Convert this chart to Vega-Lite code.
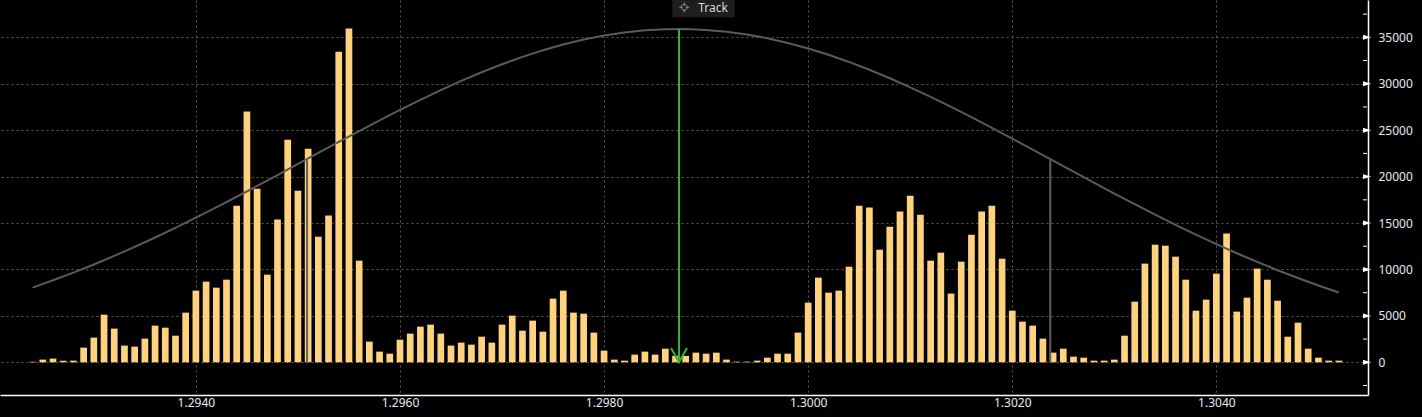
{
  "$schema": "https://vega.github.io/schema/vega-lite/v6.json",
  "width": 1368,
  "height": 395,
  "padding": {"left": 0, "top": 0, "right": 54, "bottom": 22},
  "autosize": {"type": "none"},
  "background": "#000000",
  "config": {
    "view": {"stroke": null},
    "axis": {
      "domainColor": "#ffffff",
      "domainWidth": 1.5,
      "labelColor": "#e4eaf4",
      "labelFont": "Noto Sans",
      "labelFontSize": 12,
      "gridColor": "#5c5c5c",
      "gridDash": [2, 3],
      "gridWidth": 1,
      "tickColor": "#ffffff"
    }
  },
  "datasets": {
    "bars": [
      {"p": 1.2924, "v": 60}, {"p": 1.2925, "v": 290}, {"p": 1.2926, "v": 400}, {"p": 1.2927, "v": 180},
      {"p": 1.2928, "v": 180}, {"p": 1.2929, "v": 1580}, {"p": 1.2930, "v": 2660}, {"p": 1.2931, "v": 5130},
      {"p": 1.2932, "v": 3630}, {"p": 1.2933, "v": 1800}, {"p": 1.2934, "v": 1690}, {"p": 1.2935, "v": 2550},
      {"p": 1.2936, "v": 3950}, {"p": 1.2937, "v": 3730}, {"p": 1.2938, "v": 2870}, {"p": 1.2939, "v": 5350},
      {"p": 1.2940, "v": 7720}, {"p": 1.2941, "v": 8690}, {"p": 1.2942, "v": 8040}, {"p": 1.2943, "v": 8900},
      {"p": 1.2944, "v": 16870}, {"p": 1.2945, "v": 27000}, {"p": 1.2946, "v": 18700}, {"p": 1.2947, "v": 9440},
      {"p": 1.2948, "v": 15370}, {"p": 1.2949, "v": 23980}, {"p": 1.2950, "v": 18490}, {"p": 1.2951, "v": 23010},
      {"p": 1.2952, "v": 13530}, {"p": 1.2953, "v": 15800}, {"p": 1.2954, "v": 33460}, {"p": 1.2955, "v": 35940},
      {"p": 1.2956, "v": 10950}, {"p": 1.2957, "v": 2230}, {"p": 1.2958, "v": 1150}, {"p": 1.2959, "v": 930},
      {"p": 1.2960, "v": 2440}, {"p": 1.2961, "v": 3090}, {"p": 1.2962, "v": 3840}, {"p": 1.2963, "v": 4060},
      {"p": 1.2964, "v": 3090}, {"p": 1.2965, "v": 1800}, {"p": 1.2966, "v": 2120}, {"p": 1.2967, "v": 1900},
      {"p": 1.2968, "v": 2760}, {"p": 1.2969, "v": 2120}, {"p": 1.2970, "v": 4060}, {"p": 1.2971, "v": 5030},
      {"p": 1.2972, "v": 3410}, {"p": 1.2973, "v": 4490}, {"p": 1.2974, "v": 3300}, {"p": 1.2975, "v": 6860},
      {"p": 1.2976, "v": 7720}, {"p": 1.2977, "v": 5350}, {"p": 1.2978, "v": 5240}, {"p": 1.2979, "v": 3200},
      {"p": 1.2980, "v": 1260}, {"p": 1.2981, "v": 290}, {"p": 1.2982, "v": 180}, {"p": 1.2983, "v": 830},
      {"p": 1.2984, "v": 1150}, {"p": 1.2985, "v": 830}, {"p": 1.2986, "v": 1470}, {"p": 1.2987, "v": 700},
      {"p": 1.2988, "v": 690}, {"p": 1.2989, "v": 1040}, {"p": 1.2990, "v": 930}, {"p": 1.2991, "v": 1040},
      {"p": 1.2992, "v": 290}, {"p": 1.2993, "v": 70}, {"p": 1.2994, "v": 70}, {"p": 1.2995, "v": 180},
      {"p": 1.2996, "v": 500}, {"p": 1.2997, "v": 930}, {"p": 1.2998, "v": 930}, {"p": 1.2999, "v": 3200},
      {"p": 1.3000, "v": 6430}, {"p": 1.3001, "v": 9120}, {"p": 1.3002, "v": 7500}, {"p": 1.3003, "v": 7720},
      {"p": 1.3004, "v": 10300}, {"p": 1.3005, "v": 16870}, {"p": 1.3006, "v": 16660}, {"p": 1.3007, "v": 12130},
      {"p": 1.3008, "v": 14610}, {"p": 1.3009, "v": 16230}, {"p": 1.3010, "v": 17950}, {"p": 1.3011, "v": 15900},
      {"p": 1.3012, "v": 10950}, {"p": 1.3013, "v": 11810}, {"p": 1.3014, "v": 7400}, {"p": 1.3015, "v": 10840},
      {"p": 1.3016, "v": 13750}, {"p": 1.3017, "v": 16230}, {"p": 1.3018, "v": 16870}, {"p": 1.3019, "v": 11160},
      {"p": 1.3020, "v": 5560}, {"p": 1.3021, "v": 4380}, {"p": 1.3022, "v": 3950}, {"p": 1.3023, "v": 2550},
      {"p": 1.3024, "v": 1040}, {"p": 1.3025, "v": 1470}, {"p": 1.3026, "v": 610}, {"p": 1.3027, "v": 500},
      {"p": 1.3028, "v": 180}, {"p": 1.3029, "v": 180}, {"p": 1.3030, "v": 290}, {"p": 1.3031, "v": 2870},
      {"p": 1.3032, "v": 6530}, {"p": 1.3033, "v": 10630}, {"p": 1.3034, "v": 12670}, {"p": 1.3035, "v": 12560},
      {"p": 1.3036, "v": 11380}, {"p": 1.3037, "v": 8900}, {"p": 1.3038, "v": 5560}, {"p": 1.3039, "v": 6750},
      {"p": 1.3040, "v": 9550}, {"p": 1.3041, "v": 13860}, {"p": 1.3042, "v": 5460}, {"p": 1.3043, "v": 6960},
      {"p": 1.3044, "v": 10090}, {"p": 1.3045, "v": 8900}, {"p": 1.3046, "v": 6640}, {"p": 1.3047, "v": 2760},
      {"p": 1.3048, "v": 4270}, {"p": 1.3049, "v": 1470}, {"p": 1.3050, "v": 500}, {"p": 1.3051, "v": 180},
      {"p": 1.3052, "v": 180}
    ],
    "curve": [
      {"p": 1.2924, "v": 8046}, {"p": 1.2926, "v": 8831}, {"p": 1.2928, "v": 9661}, {"p": 1.2930, "v": 10540},
      {"p": 1.2932, "v": 11463}, {"p": 1.2934, "v": 12432}, {"p": 1.2936, "v": 13445}, {"p": 1.2938, "v": 14489},
      {"p": 1.2940, "v": 15573}, {"p": 1.2942, "v": 16690}, {"p": 1.2944, "v": 17832}, {"p": 1.2946, "v": 18991},
      {"p": 1.2948, "v": 20172}, {"p": 1.2950, "v": 21361}, {"p": 1.2952, "v": 22549}, {"p": 1.2954, "v": 23733},
      {"p": 1.2956, "v": 24904}, {"p": 1.2958, "v": 26060}, {"p": 1.2960, "v": 27183}, {"p": 1.2962, "v": 28271},
      {"p": 1.2964, "v": 29316}, {"p": 1.2966, "v": 30307}, {"p": 1.2968, "v": 31240}, {"p": 1.2970, "v": 32105},
      {"p": 1.2972, "v": 32895}, {"p": 1.2974, "v": 33606}, {"p": 1.2976, "v": 34227}, {"p": 1.2978, "v": 34758},
      {"p": 1.2980, "v": 35193}, {"p": 1.2982, "v": 35527}, {"p": 1.2984, "v": 35753}, {"p": 1.2986, "v": 35877},
      {"p": 1.2988, "v": 35893}, {"p": 1.2990, "v": 35802}, {"p": 1.2992, "v": 35605}, {"p": 1.2994, "v": 35304},
      {"p": 1.2996, "v": 34900}, {"p": 1.2998, "v": 34398}, {"p": 1.3000, "v": 33804}, {"p": 1.3002, "v": 33118},
      {"p": 1.3004, "v": 32350}, {"p": 1.3006, "v": 31509}, {"p": 1.3008, "v": 30594}, {"p": 1.3010, "v": 29617},
      {"p": 1.3012, "v": 28591}, {"p": 1.3014, "v": 27514}, {"p": 1.3016, "v": 26398}, {"p": 1.3018, "v": 25252},
      {"p": 1.3020, "v": 24085}, {"p": 1.3022, "v": 22903}, {"p": 1.3024, "v": 21712}, {"p": 1.3026, "v": 20528},
      {"p": 1.3028, "v": 19347}, {"p": 1.3030, "v": 18176}, {"p": 1.3032, "v": 17027}, {"p": 1.3034, "v": 15907},
      {"p": 1.3036, "v": 14812}, {"p": 1.3038, "v": 13753}, {"p": 1.3040, "v": 12730}, {"p": 1.3042, "v": 11750},
      {"p": 1.3044, "v": 10813}, {"p": 1.3046, "v": 9919}, {"p": 1.3048, "v": 9076}, {"p": 1.3050, "v": 8275},
      {"p": 1.3052, "v": 7525}
    ],
    "sigma": [
      {"p": 1.2950895, "v": 21775},
      {"p": 1.3023726, "v": 21775}
    ],
    "track": [
      {"p": 1.2987344, "v": 35900, "label": "Track", "bx": 1.2986693, "bx2": 1.2992792, "by": 39020, "by2": 37157, "ix": 1.298786, "iy": 38234, "tx": 1.2989222, "ty": 38105}
    ],
    "yticks": [
      {"v": 0}, {"v": 5000}, {"v": 10000}, {"v": 15000}, {"v": 20000}, {"v": 25000}, {"v": 30000}, {"v": 35000}
    ],
    "yminor": [
      {"v": -2500}, {"v": 2500}, {"v": 7500}, {"v": 12500}, {"v": 17500}, {"v": 22500}, {"v": 27500}, {"v": 32500}, {"v": 37500}
    ]
  },
  "layer": [
    {
      "data": {"name": "bars"},
      "mark": {"type": "bar", "color": "#ffd27f", "size": 6.7},
      "encoding": {
        "x": {
          "field": "p", "type": "quantitative", "title": null,
          "scale": {"domain": [1.2921294, 1.305437], "nice": false, "zero": false},
          "axis": {
            "orient": "bottom",
            "values": [1.294, 1.296, 1.298, 1.3, 1.302, 1.304],
            "format": ".4f",
            "ticks": false,
            "labelPadding": 2,
            "grid": true
          }
        },
        "y": {
          "field": "v", "type": "quantitative", "title": null,
          "scale": {"domain": [-3520, 39020], "nice": false, "zero": false},
          "axis": {
            "orient": "right",
            "values": [0, 5000, 10000, 15000, 20000, 25000, 30000, 35000],
            "format": "d",
            "grid": true,
            "ticks": false,
            "labelPadding": 10
          }
        }
      }
    },
    {
      "data": {"name": "curve"},
      "mark": {"type": "line", "color": "#5a5a5a", "strokeWidth": 2},
      "encoding": {
        "x": {"field": "p", "type": "quantitative", "title": null},
        "y": {"field": "v", "type": "quantitative", "title": null}
      }
    },
    {
      "data": {"name": "sigma"},
      "mark": {"type": "rule", "color": "#5e5e5e", "strokeWidth": 2},
      "encoding": {
        "x": {"field": "p", "type": "quantitative", "title": null},
        "y": {"field": "v", "type": "quantitative", "title": null},
        "y2": {"datum": 0}
      }
    },
    {
      "data": {"name": "track"},
      "mark": {"type": "rule", "color": "#2fb52f", "strokeWidth": 2},
      "encoding": {
        "x": {"field": "p", "type": "quantitative", "title": null},
        "y": {"field": "v", "type": "quantitative", "title": null},
        "y2": {"datum": 0}
      }
    },
    {
      "data": {"name": "track"},
      "mark": {"type": "point", "shape": "M-1,-1.8L0,0L1,-1.8", "size": 256, "filled": false, "stroke": "#2fb52f", "strokeWidth": 2, "opacity": 1},
      "encoding": {
        "x": {"field": "p", "type": "quantitative", "title": null},
        "y": {"datum": 0}
      }
    },
    {
      "data": {"name": "track"},
      "mark": {"type": "rect", "color": "#1e1e1e"},
      "encoding": {
        "x": {"field": "bx", "type": "quantitative", "title": null},
        "x2": {"field": "bx2"},
        "y": {"field": "by", "type": "quantitative", "title": null},
        "y2": {"field": "by2"}
      }
    },
    {
      "data": {"name": "track"},
      "mark": {"type": "point", "shape": "M-1,0H-0.3M0.3,0H1M0,-1V-0.3M0,0.3V1M-0.6,0A0.6,0.6 0 1,0 0.6,0A0.6,0.6 0 1,0 -0.6,0", "size": 100, "filled": false, "stroke": "#8a8a8a", "strokeWidth": 1, "opacity": 1},
      "encoding": {
        "x": {"field": "ix", "type": "quantitative", "title": null},
        "y": {"field": "iy", "type": "quantitative", "title": null}
      }
    },
    {
      "data": {"name": "track"},
      "mark": {"type": "text", "align": "left", "baseline": "middle", "font": "Noto Sans", "fontSize": 12, "color": "#d8d8d8"},
      "encoding": {
        "x": {"field": "tx", "type": "quantitative", "title": null},
        "y": {"field": "ty", "type": "quantitative", "title": null},
        "text": {"field": "label"}
      }
    },
    {
      "data": {"name": "yticks"},
      "mark": {"type": "point", "shape": "M0,-0.55L1.8,0L0,0.55Z", "size": 81, "filled": true, "color": "#ffffff", "opacity": 1},
      "encoding": {
        "x": {"datum": 1.305437},
        "y": {"field": "v", "type": "quantitative", "title": null}
      }
    },
    {
      "data": {"name": "yminor"},
      "mark": {"type": "point", "shape": "M0,0H1", "size": 64, "filled": false, "stroke": "#ffffff", "strokeWidth": 1, "opacity": 1},
      "encoding": {
        "x": {"datum": 1.305437},
        "y": {"field": "v", "type": "quantitative", "title": null}
      }
    }
  ]
}
